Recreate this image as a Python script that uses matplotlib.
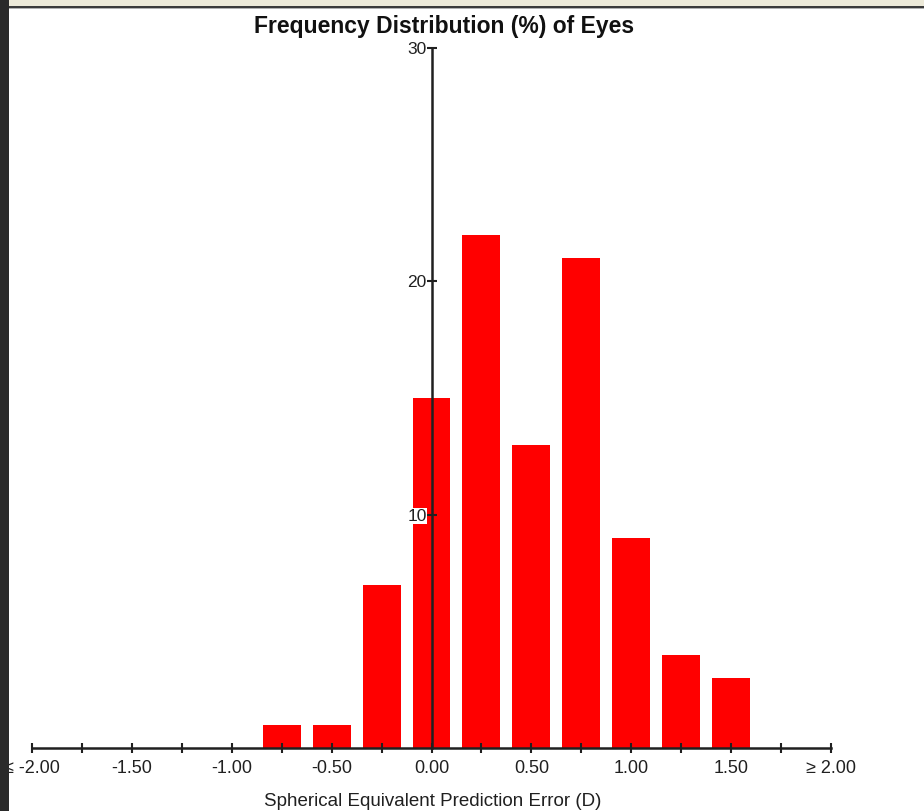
import matplotlib.pyplot as plt
from matplotlib.patches import Rectangle

# prediction error bins (D) and share of eyes (%)
bin_centers = [-0.75, -0.50, -0.25, 0.00, 0.25, 0.50, 0.75, 1.00, 1.25, 1.50]
percent_eyes = [1, 1, 7, 15, 22, 13, 21, 9, 4, 3]

x_ticks = [-2.0 + 0.25 * i for i in range(17)]
x_tick_labels = ["\u2264 -2.00", "", "-1.50", "", "-1.00", "", "-0.50", "", "0.00",
                 "", "0.50", "", "1.00", "", "1.50", "", "\u2265 2.00"]
y_ticks = [10, 20, 30]

W, H = 924, 811
fig = plt.figure(figsize=(W / 100, H / 100), dpi=100)
plt.rcParams['font.family'] = ['Liberation Sans', 'DejaVu Sans']

ax = fig.add_axes([32 / W, (H - 748) / H, (831 - 32) / W, (748 - 48) / H])
ax.bar(bin_centers, percent_eyes, width=0.19, color="#ff0000", zorder=1)

ax.set_xlim(-2, 2)
ax.set_ylim(0, 30)
ax.set_facecolor("none")

for s in ("top", "right"):
    ax.spines[s].set_visible(False)
ax.spines["left"].set_position(("data", 0))
for s in ("left", "bottom"):
    ax.spines[s].set_linewidth(1.8)
    ax.spines[s].set_color("#202020")

ax.set_xticks(x_ticks)
ax.set_xticklabels(x_tick_labels)
ax.set_yticks(y_ticks)
ax.set_yticklabels([str(v) for v in y_ticks])
ax.tick_params(axis="x", direction="inout", length=7, width=1.5, color="#202020",
               labelsize=13, pad=5, labelcolor="#202020")
ax.tick_params(axis="y", direction="inout", length=7, width=1.5, color="#202020",
               labelsize=12.5, pad=0, labelcolor="#202020")
for lbl in ax.get_yticklabels():
    if lbl.get_text() == "10":
        lbl.set_bbox(dict(facecolor="white", edgecolor="none", pad=0.5))

fig.text(444 / W, 1 - 27 / H, "Frequency Distribution (%) of Eyes", ha="center",
         va="center", fontsize=16.5, fontweight="bold", color="#111111")
fig.text(433 / W, 1 - 801 / H, "Spherical Equivalent Prediction Error (D)",
         ha="center", va="center", fontsize=13.5, color="#202020")

# window frame: beige strip on top, dark strip on the left
fig.patches.append(Rectangle((0, 1 - 6 / H), 1, 6 / H, transform=fig.transFigure,
                             facecolor="#ece9d8", edgecolor="none", zorder=10))
fig.patches.append(Rectangle((0, 1 - 8 / H), 1, 2 / H, transform=fig.transFigure,
                             facecolor="#3a3a3a", edgecolor="none", zorder=10))
fig.patches.append(Rectangle((0, 1 - 9 / H), 1, 1 / H, transform=fig.transFigure,
                             facecolor="#b0b0b0", edgecolor="none", zorder=10))
fig.patches.append(Rectangle((0, 0), 9 / W, 1, transform=fig.transFigure,
                             facecolor="#2a2a2a", edgecolor="none", zorder=11))

fig.savefig("out.png", dpi=100)
